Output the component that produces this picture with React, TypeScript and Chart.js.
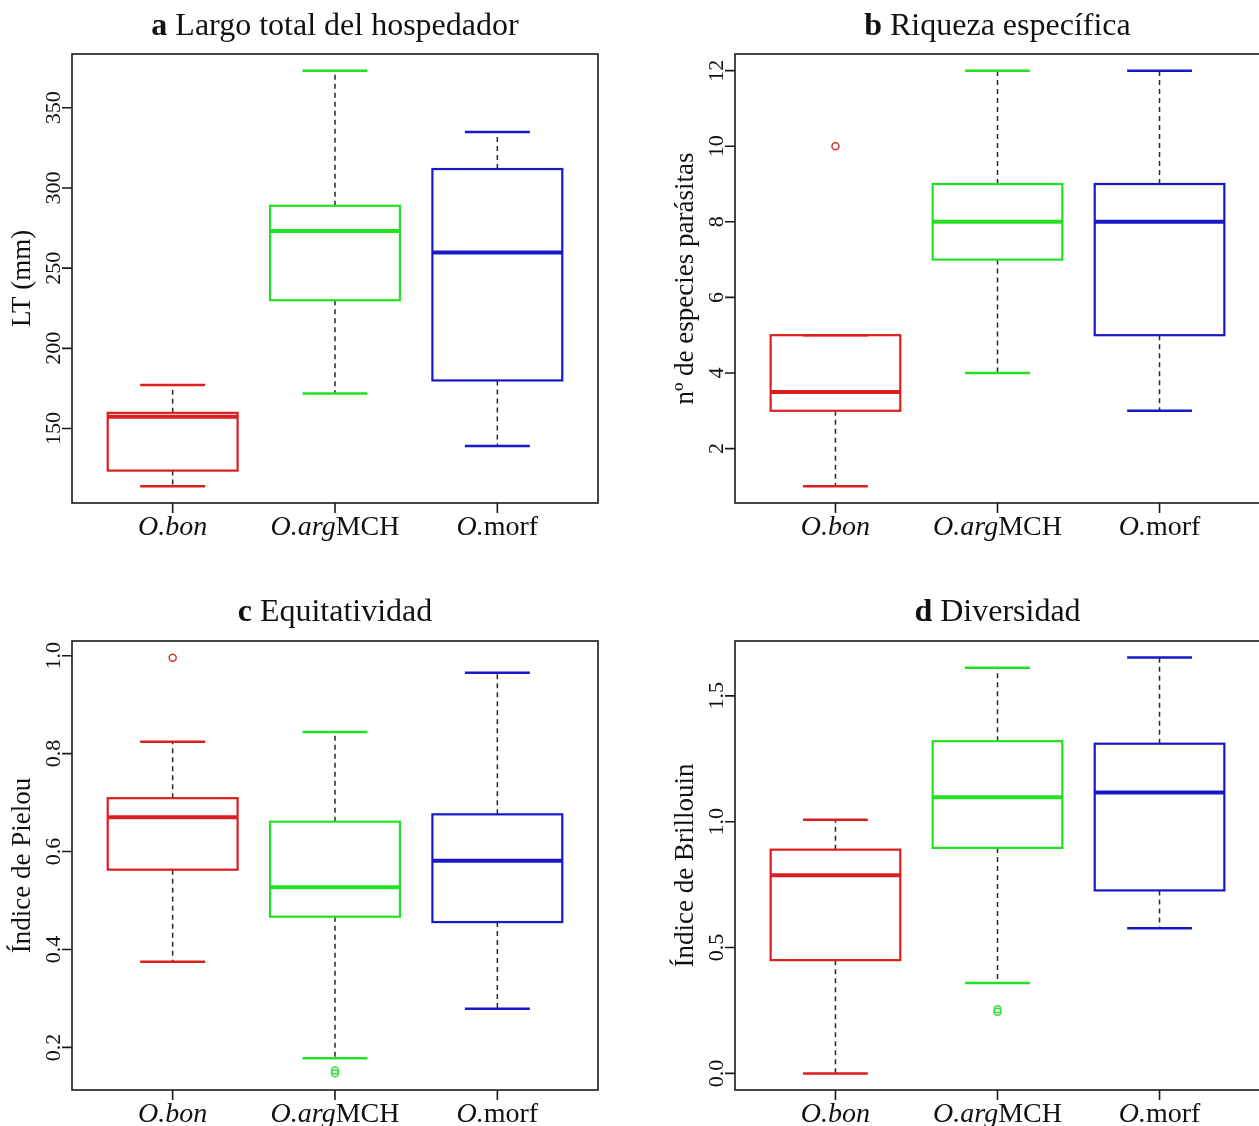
import { useEffect, useRef } from "react";
import { Chart, registerables } from "chart.js";

Chart.register(...registerables);

const FONT = '"Liberation Serif", "Times New Roman", serif';

// groups (x categories)
const groupPositions = [1, 2, 3];
const groupLabelItalic = ["O.bon", "O.arg", "O."];
const groupLabelRoman = ["", "MCH", "morf"];
const boxColors = ["#dc1e1e", "#22e022", "#1818c8"];
const outlierColors = ["#c83c3c", "#3cdc3c", "#2c2cc0"];
const xRange = [0.38, 3.62];

// a Largo total del hospedador
const largoLow = [114.0, 171.8, 139.1];
const largoQ1 = [123.8, 230.0, 180.0];
const largoMedian = [157.4, 273.1, 259.8];
const largoQ3 = [159.8, 288.9, 311.8];
const largoHigh = [177.1, 373.1, 334.9];
const largoOutlierGroup: number[] = [];
const largoOutlierValue: number[] = [];
const largoTicks = [150, 200, 250, 300, 350];
const largoTickLabels = ["150", "200", "250", "300", "350"];
const largoRange = [103.6, 383.5];

// b Riqueza específica
const riquezaLow = [1, 4, 3];
const riquezaQ1 = [3, 7, 5];
const riquezaMedian = [3.5, 8, 8];
const riquezaQ3 = [5, 9, 9];
const riquezaHigh = [5, 12, 12];
const riquezaOutlierGroup = [0];
const riquezaOutlierValue = [10];
const riquezaTicks = [2, 4, 6, 8, 10, 12];
const riquezaTickLabels = ["2", "4", "6", "8", "10", "12"];
const riquezaRange = [0.56, 12.44];

// c Equitatividad
const equitLow = [0.375, 0.178, 0.279];
const equitQ1 = [0.563, 0.467, 0.456];
const equitMedian = [0.67, 0.527, 0.581];
const equitQ3 = [0.709, 0.661, 0.676];
const equitHigh = [0.824, 0.844, 0.965];
const equitOutlierGroup = [0, 1, 1];
const equitOutlierValue = [0.996, 0.147, 0.153];
const equitTicks = [0.2, 0.4, 0.6, 0.8, 1.0];
const equitTickLabels = ["0.2", "0.4", "0.6", "0.8", "1.0"];
const equitRange = [0.113, 1.03];

// d Diversidad
const diverLow = [0.0, 0.359, 0.577];
const diverQ1 = [0.45, 0.896, 0.727];
const diverMedian = [0.787, 1.097, 1.116];
const diverQ3 = [0.889, 1.32, 1.31];
const diverHigh = [1.008, 1.612, 1.652];
const diverOutlierGroup = [1, 1];
const diverOutlierValue = [0.245, 0.255];
const diverTicks = [0.0, 0.5, 1.0, 1.5];
const diverTickLabels = ["0.0", "0.5", "1.0", "1.5"];
const diverRange = [-0.066, 1.718];

type Panel = {
  letter: string;
  title: string;
  yTitle: string;
  low: number[];
  q1: number[];
  median: number[];
  q3: number[];
  high: number[];
  outGroup: number[];
  outValue: number[];
  ticks: number[];
  tickLabels: string[];
  range: number[];
  frame: { left: number; top: number; width: number; height: number };
  pad: { left: number; right: number; top: number; bottom: number };
  titleGap: number;
};

const panels: Panel[] = [
  {
    letter: "a", title: "Largo total del hospedador", yTitle: "LT (mm)",
    low: largoLow, q1: largoQ1, median: largoMedian, q3: largoQ3, high: largoHigh,
    outGroup: largoOutlierGroup, outValue: largoOutlierValue,
    ticks: largoTicks, tickLabels: largoTickLabels, range: largoRange,
    frame: { left: 0, top: 0, width: 630, height: 560 },
    pad: { left: 72, right: 32, top: 54, bottom: 57 }, titleGap: 19,
  },
  {
    letter: "b", title: "Riqueza específica", yTitle: "nº de especies parásitas",
    low: riquezaLow, q1: riquezaQ1, median: riquezaMedian, q3: riquezaQ3, high: riquezaHigh,
    outGroup: riquezaOutlierGroup, outValue: riquezaOutlierValue,
    ticks: riquezaTicks, tickLabels: riquezaTickLabels, range: riquezaRange,
    frame: { left: 630, top: 0, width: 640, height: 560 },
    pad: { left: 105, right: 10, top: 54, bottom: 57 }, titleGap: 19,
  },
  {
    letter: "c", title: "Equitatividad", yTitle: "Índice de Pielou",
    low: equitLow, q1: equitQ1, median: equitMedian, q3: equitQ3, high: equitHigh,
    outGroup: equitOutlierGroup, outValue: equitOutlierValue,
    ticks: equitTicks, tickLabels: equitTickLabels, range: equitRange,
    frame: { left: 0, top: 560, width: 630, height: 580 },
    pad: { left: 72, right: 32, top: 81, bottom: 50 }, titleGap: 20,
  },
  {
    letter: "d", title: "Diversidad", yTitle: "Índice de Brillouin",
    low: diverLow, q1: diverQ1, median: diverMedian, q3: diverQ3, high: diverHigh,
    outGroup: diverOutlierGroup, outValue: diverOutlierValue,
    ticks: diverTicks, tickLabels: diverTickLabels, range: diverRange,
    frame: { left: 630, top: 560, width: 640, height: 580 },
    pad: { left: 105, right: 10, top: 81, bottom: 50 }, titleGap: 20,
  },
];

function makePlugin(p: Panel) {
  return {
    id: "rBoxplot",
    afterDatasetsDraw(chart: any) {
      const ctx = chart.ctx;
      const xs = chart.scales.x;
      const ys = chart.scales.y;
      const bars = chart.getDatasetMeta(0).data;
      groupPositions.forEach((pos, i) => {
        const bar = bars[i];
        const cx = xs.getPixelForValue(pos);
        const half = bar.width / 2;
        const capHalf = half / 2;
        const yLow = ys.getPixelForValue(p.low[i]);
        const yQ1 = ys.getPixelForValue(p.q1[i]);
        const yMed = ys.getPixelForValue(p.median[i]);
        const yQ3 = ys.getPixelForValue(p.q3[i]);
        const yHigh = ys.getPixelForValue(p.high[i]);
        ctx.save();
        // dashed whiskers
        ctx.strokeStyle = "#262626";
        ctx.lineWidth = 1.5;
        ctx.setLineDash([5, 4]);
        ctx.beginPath();
        if (Math.abs(yHigh - yQ3) > 0.5) {
          ctx.moveTo(cx, yQ3);
          ctx.lineTo(cx, yHigh);
        }
        if (Math.abs(yLow - yQ1) > 0.5) {
          ctx.moveTo(cx, yQ1);
          ctx.lineTo(cx, yLow);
        }
        ctx.stroke();
        ctx.setLineDash([]);
        // staples
        ctx.strokeStyle = boxColors[i];
        ctx.lineWidth = 2.5;
        ctx.beginPath();
        ctx.moveTo(cx - capHalf, yHigh);
        ctx.lineTo(cx + capHalf, yHigh);
        ctx.moveTo(cx - capHalf, yLow);
        ctx.lineTo(cx + capHalf, yLow);
        ctx.stroke();
        // box, from the bar element geometry (bar.y = q3, bar.base = q1)
        ctx.lineWidth = 2.2;
        const yTop = Math.min(bar.y, bar.base);
        const yBot = Math.max(bar.y, bar.base);
        ctx.strokeRect(bar.x - half, yTop, bar.width, yBot - yTop);
        // median
        ctx.lineWidth = 4;
        ctx.beginPath();
        ctx.moveTo(cx - half, yMed);
        ctx.lineTo(cx + half, yMed);
        ctx.stroke();
        ctx.restore();
      });
    },
    afterDraw(chart: any) {
      const ctx = chart.ctx;
      const xs = chart.scales.x;
      const ys = chart.scales.y;
      const { left, right, top, bottom } = chart.chartArea;
      ctx.save();
      // frame
      ctx.strokeStyle = "#1a1a1a";
      ctx.lineWidth = 1.6;
      ctx.strokeRect(left, top, right - left, bottom - top);
      // y ticks
      ctx.beginPath();
      ys.ticks.forEach((t: any) => {
        const y = ys.getPixelForValue(t.value);
        ctx.moveTo(left - 10, y);
        ctx.lineTo(left, y);
      });
      // x ticks
      xs.ticks.forEach((t: any) => {
        const x = xs.getPixelForValue(t.value);
        ctx.moveTo(x, bottom);
        ctx.lineTo(x, bottom + 10);
      });
      ctx.stroke();
      ctx.fillStyle = "#111";
      // y tick labels (rotated)
      ctx.font = `22px ${FONT}`;
      ctx.textAlign = "center";
      ctx.textBaseline = "alphabetic";
      ys.ticks.forEach((t: any, i: number) => {
        const y = ys.getPixelForValue(t.value);
        ctx.save();
        ctx.translate(left - 12, y);
        ctx.rotate(-Math.PI / 2);
        ctx.fillText(p.tickLabels[i], 0, 0);
        ctx.restore();
      });
      // y title
      ctx.font = `27px ${FONT}`;
      ctx.save();
      ctx.translate(left - 42, (top + bottom) / 2);
      ctx.rotate(-Math.PI / 2);
      ctx.fillText(p.yTitle, 0, 0);
      ctx.restore();
      // x tick labels with mixed styles
      ctx.textAlign = "left";
      groupPositions.forEach((pos, i) => {
        const x = xs.getPixelForValue(pos);
        const itFont = `italic 28px ${FONT}`;
        const rmFont = `28px ${FONT}`;
        ctx.font = itFont;
        const w1 = ctx.measureText(groupLabelItalic[i]).width;
        ctx.font = rmFont;
        const w2 = ctx.measureText(groupLabelRoman[i]).width;
        let sx = x - (w1 + w2) / 2;
        ctx.font = itFont;
        ctx.fillText(groupLabelItalic[i], sx, bottom + 32);
        sx += w1;
        ctx.font = rmFont;
        ctx.fillText(groupLabelRoman[i], sx, bottom + 32);
      });
      // title
      const cx = (left + right) / 2;
      const boldFont = `bold 32px ${FONT}`;
      const normFont = `32px ${FONT}`;
      ctx.font = boldFont;
      const wb = ctx.measureText(p.letter).width;
      ctx.font = normFont;
      const rest = " " + p.title;
      const wn = ctx.measureText(rest).width;
      let tx = cx - (wb + wn) / 2;
      ctx.font = boldFont;
      ctx.fillText(p.letter, tx, top - p.titleGap);
      tx += wb;
      ctx.font = normFont;
      ctx.fillText(rest, tx, top - p.titleGap);
      ctx.restore();
    },
  };
}

function buildChart(canvas: HTMLCanvasElement, p: Panel) {
  const boxData = groupPositions.map((x, i) => ({ x, y: [p.q1[i], p.q3[i]] }));
  const outData = p.outGroup.map((g, i) => ({ x: groupPositions[g], y: p.outValue[i] }));
  const outColors = p.outGroup.map((g) => outlierColors[g]);
  return new Chart(canvas, {
    type: "bar",
    data: {
      datasets: [
        {
          type: "bar",
          data: boxData as any,
          borderColor: boxColors,
          backgroundColor: "rgba(0,0,0,0)",
          borderWidth: 0,
          borderSkipped: false,
          barPercentage: 0.8,
          categoryPercentage: 1,
          inflateAmount: 0,
        } as any,
        {
          type: "scatter",
          data: outData as any,
          pointRadius: 3.5,
          pointBorderWidth: 1.5,
          pointBorderColor: outColors,
          pointBackgroundColor: "rgba(0,0,0,0)",
          pointStyle: "circle",
        } as any,
      ],
    },
    options: {
      responsive: false,
      maintainAspectRatio: false,
      devicePixelRatio: 1,
      animation: false,
      events: [],
      layout: { padding: p.pad },
      plugins: { legend: { display: false }, tooltip: { enabled: false }, title: { display: false } },
      scales: {
        x: {
          type: "linear",
          display: false,
          offset: false,
          min: xRange[0],
          max: xRange[1],
          afterBuildTicks: (scale: any) => {
            scale.ticks = groupPositions.map((v) => ({ value: v }));
          },
        },
        y: {
          type: "linear",
          display: false,
          beginAtZero: false,
          min: p.range[0],
          max: p.range[1],
          afterBuildTicks: (scale: any) => {
            scale.ticks = p.ticks.map((v) => ({ value: v }));
          },
        },
      } as any,
    },
    plugins: [makePlugin(p) as any],
  });
}

export default function App() {
  const refs = useRef<(HTMLCanvasElement | null)[]>([]);
  useEffect(() => {
    const charts = panels.map((p, i) => buildChart(refs.current[i] as HTMLCanvasElement, p));
    return () => charts.forEach((c) => c.destroy());
  }, []);
  return (
    <div
      style={{
        position: "fixed",
        left: 0,
        top: 0,
        width: 1259,
        height: 1126,
        overflow: "hidden",
        background: "#ffffff",
      }}
    >
      {panels.map((p, i) => (
        <canvas
          key={i}
          ref={(el) => {
            refs.current[i] = el;
          }}
          width={p.frame.width}
          height={p.frame.height}
          style={{
            position: "absolute",
            left: p.frame.left,
            top: p.frame.top,
            width: p.frame.width,
            height: p.frame.height,
            display: "block",
          }}
        />
      ))}
    </div>
  );
}
